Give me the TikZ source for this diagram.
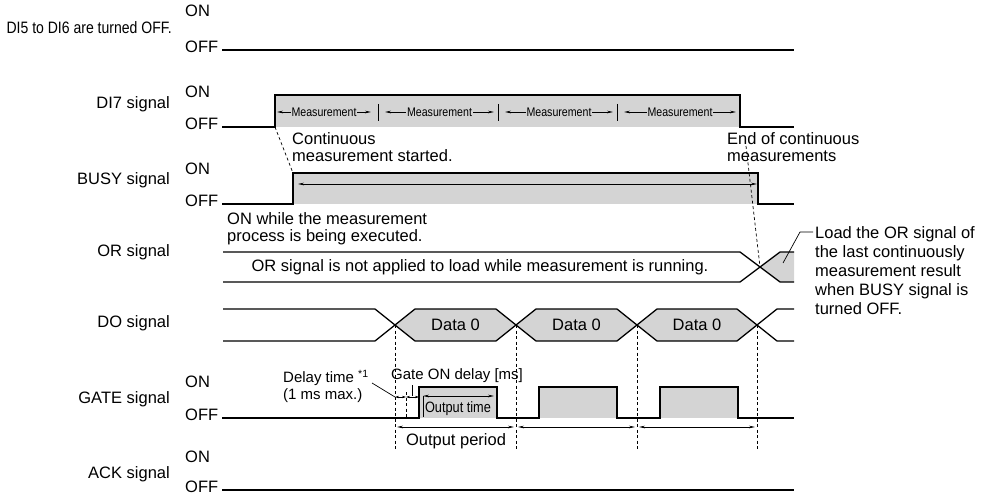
\documentclass[tikz,border=0pt]{standalone}
\usepackage{fontspec}
\setmainfont{Liberation Sans}
\newfontfamily\narrowfont[FakeStretch=0.85]{Liberation Sans}
\usetikzlibrary{arrows.meta}
\definecolor{sigfill}{RGB}{212,212,212}

\begin{document}
\begin{tikzpicture}[x=1pt, y=-1pt,
        font=\fontsize{16.5}{17}\selectfont,
        wave/.style={line width=1.3pt, line join=miter},
        signame/.style={anchor=mid east, inner sep=0pt},
        onoff/.style={anchor=mid west, inner sep=0pt},
        note/.style={anchor=north west, align=left, inner sep=0pt},
        span/.style={{Stealth[length=6pt,width=2.6pt]}-{Stealth[length=6pt,width=2.6pt]}, line width=0.7pt},
        tinyspan/.style={{Stealth[length=4pt,width=2.4pt]}-{Stealth[length=4pt,width=2.4pt]}, line width=0.6pt},
        guide/.style={line width=0.7pt, dash pattern=on 3pt off 2.5pt},
        narrow/.style={font=\narrowfont\fontsize{#1}{#1}\selectfont}
    ]
        \useasboundingbox (0,0) rectangle (984,497);

        \node[signame, narrow=16.5] (dislabel) at (172,31) {DI5 to DI6 are turned OFF.};
        \node[signame] (di7label) at (170,106) {DI7 signal};
        \node[signame] (busylabel) at (170,182) {BUSY signal};
        \node[signame] (orlabel) at (170,254) {OR signal};
        \node[signame] (dolabel) at (170,325) {DO signal};
        \node[signame] (gatelabel) at (170,401) {GATE signal};
        \node[signame] (acklabel) at (170,476) {ACK signal};

        \foreach \on/\off/\n in {14/50/dis, 95/127/di, 172/204/busy, 385/418/gate, 460/490/ack} {
            \node[onoff] (\n on) at (185,\on) {ON};
            \node[onoff] (\n off) at (185,\off) {OFF};
        }

        \draw[wave] (222,50) -- (794,50);

        \fill[sigfill] (275,127) rectangle (740,95);
        \draw[wave] (222,127) -- (275,127) -- (275,95) -- (740,95) -- (740,127) -- (794,127);
        \foreach \a/\b/\n in {277/371/1, 385/494/2, 505/613/3, 624/736/4}
            \draw[span] (\a,112) -- node[fill=sigfill, inner sep=1pt, narrow=12.5] (meas\n) {Measurement} (\b,112);
        \foreach \x in {378,498,617}
            \draw[line width=1pt] (\x,104) -- (\x,121);

        \fill[sigfill] (293,204) rectangle (758,173);
        \draw[wave] (222,204) -- (293,204) -- (293,173) -- (758,173) -- (758,204) -- (794,204);
        \coordinate (busystart) at (298,184);
        \coordinate (busyend) at (757,184);
        \draw[span] (busystart) -- (busyend);

        \node[note] (startnote) at (292,132) {Continuous\\measurement started.};
        \node[note] (endnote) at (727,132) {End of continuous\\measurements};
        \node[note] (busynote) at (227,212) {ON while the measurement\\process is being executed.};
        \coordinate (di7rise) at (275,127);
        \coordinate (busyrise) at (293,173);
        \draw[guide] (di7rise) -- (busyrise);

        \fill[sigfill] (760,267) -- (780,252) -- (794,252) -- (794,282) -- (780,282) -- cycle;
        \draw[wave] (223,252) -- (740,252) -- (780,282) -- (794,282);
        \draw[wave] (223,282) -- (740,282) -- (780,252) -- (794,252);
        \node (ortext) at (480,267) {OR signal is not applied to load while measurement is running.};
        \coordinate (endmark) at (746,146);
        \coordinate (orcross) at (760,267);
        \draw[guide] (endmark) -- (orcross);

        \node[note, font=\fontsize{16.5}{19}\selectfont] (loadnote) at (815,226) {Load the OR signal of\\the last continuously\\measurement result\\when BUSY signal is\\turned OFF.};
        \coordinate (orlast) at (783,263);
        \coordinate (loadbend) at (800,232);
        \draw[line width=0.7pt] (orlast) -- (loadbend) -- ([xshift=-2pt]loadnote.north west |- loadbend);

        \draw[wave] (223,309) -- (375,309) -- (395,325);
        \draw[wave] (223,341) -- (375,341) -- (395,325);
        \foreach \a/\b/\n in {395/516/1, 516/637/2, 637/757/3} {
            \filldraw[wave, fill=sigfill] (\a,325) -- (\a+20,309) -- (\b-20,309) -- (\b,325) -- (\b-20,341) -- (\a+20,341) -- cycle;
            \node (data\n) at ({(\a+\b)/2},325) {Data 0};
        }
        \draw[wave] (757,325) -- (777,309) -- (794,309);
        \draw[wave] (757,325) -- (777,341) -- (794,341);

        \foreach \a/\b in {419/497, 539/617, 660/738}
            \fill[sigfill] (\a,418) rectangle (\b,387);
        \draw[wave] (222,418) -- (419,418) -- (419,387) -- (497,387) -- (497,418) -- (539,418) -- (539,387) -- (617,387)
            -- (617,418) -- (660,418) -- (660,387) -- (738,387) -- (738,418) -- (794,418);

        \draw[wave] (222,490) -- (794,490);

        \foreach \x/\n in {395/1, 516/2, 637/3, 757/4} {
            \coordinate (cross\n) at (\x,325);
            \coordinate (foot\n) at (\x,450);
            \draw[guide] (cross\n) -- (foot\n);
        }
        \foreach \a/\b/\n in {397/514/1, 518/635/2, 639/755/3} {
            \coordinate (ps\n) at (\a,427);
            \coordinate (pe\n) at (\b,427);
            \draw[span] (ps\n) -- (pe\n);
        }
        \node (periodtext) at (456,441) {Output period};

        \coordinate (delaystart) at (395,397);
        \coordinate (delayend) at (406,397);
        \coordinate (gateup) at (419,397);
        \draw[guide] (406,392) -- (406,418);
        \draw[tinyspan] (delaystart) -- (delayend);
        \draw[tinyspan] (delayend) -- (gateup);
        \coordinate (outstart) at (423,396);
        \coordinate (outend) at (494,396);
        \draw[span] (outstart) -- (outend);
        \draw[line width=0.7pt] (outstart) -- (423,417);
        \node[narrow=15] (outtext) at (458,409) {Output time};

        \node[note, font=\fontsize{15}{17}\selectfont] (delaynote) at (283,370) {Delay time \textsuperscript{*1}\\(1 ms max.)};
        \node[anchor=mid west, inner sep=0pt, font=\fontsize{15}{17}\selectfont] (gatenote) at (391,377) {Gate ON delay [ms]};
        \coordinate (delaytip) at (372,383);
        \draw[line width=0.7pt] (delaytip) -- (delaystart);
        \coordinate (gatetick) at (412,385);
        \draw[line width=0.7pt] (gatetick) -- (412,396);
    \end{tikzpicture}
\end{document}
